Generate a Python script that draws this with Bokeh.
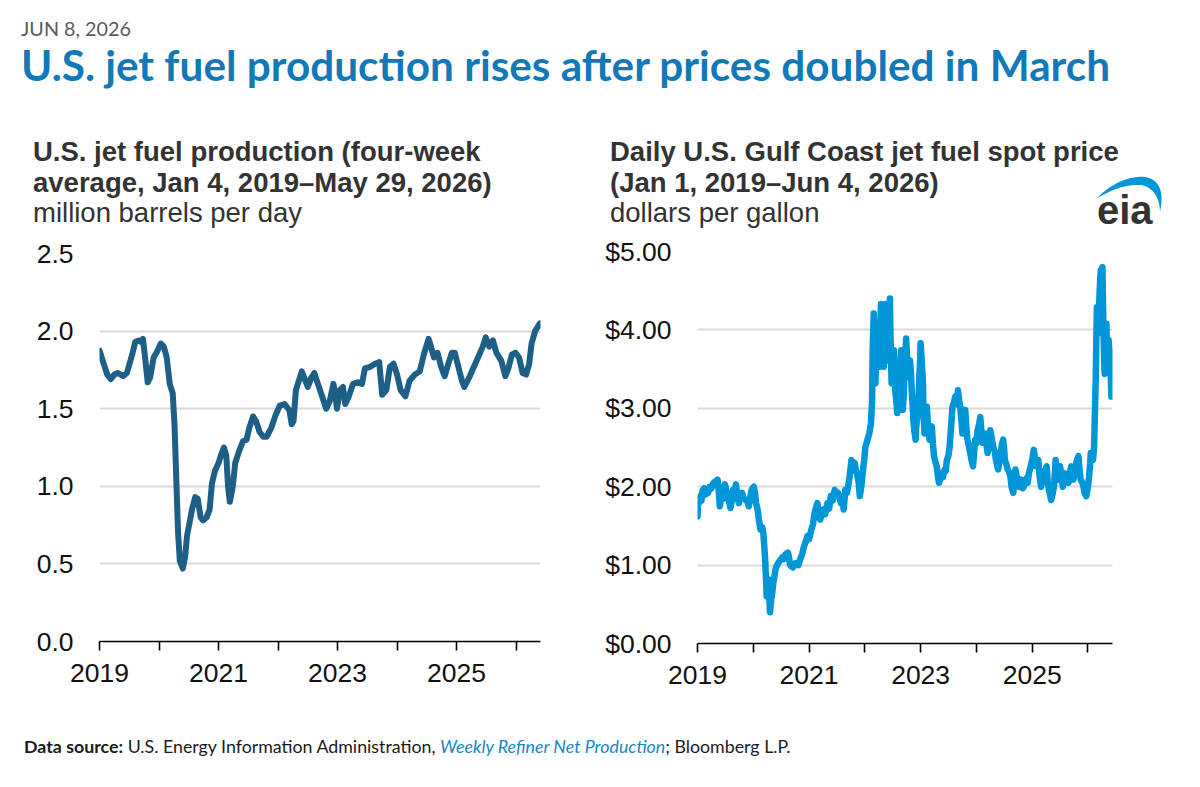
from bokeh.plotting import figure
from bokeh.layouts import column, row
from bokeh.models import Div, Range1d, FixedTicker, NumeralTickFormatter
from bokeh.embed import file_html
from bokeh.resources import INLINE

# ---------------- data ----------------
# U.S. jet fuel production, four-week average (million barrels per day): (decimal year, value)
prod_series = [
    (2019.00, 1.875), (2019.07, 1.79), (2019.13, 1.72), (2019.19, 1.69), (2019.25, 1.72),
    (2019.31, 1.73), (2019.40, 1.71), (2019.46, 1.73), (2019.55, 1.85), (2019.60, 1.93),
    (2019.66, 1.94), (2019.70, 1.93), (2019.73, 1.95), (2019.76, 1.85), (2019.81, 1.67),
    (2019.85, 1.70), (2019.91, 1.83), (2019.97, 1.87), (2020.03, 1.92), (2020.08, 1.90),
    (2020.13, 1.83), (2020.18, 1.66), (2020.23, 1.60), (2020.26, 1.40), (2020.29, 1.05),
    (2020.32, 0.70), (2020.35, 0.52), (2020.40, 0.47), (2020.44, 0.55), (2020.47, 0.68),
    (2020.52, 0.78), (2020.56, 0.86), (2020.61, 0.93), (2020.65, 0.92), (2020.70, 0.80),
    (2020.74, 0.78), (2020.80, 0.80), (2020.85, 0.85), (2020.89, 1.02), (2020.94, 1.10),
    (2021.00, 1.15), (2021.04, 1.20), (2021.09, 1.25), (2021.13, 1.20), (2021.16, 1.00),
    (2021.19, 0.90), (2021.24, 1.00), (2021.28, 1.15), (2021.34, 1.22), (2021.41, 1.29),
    (2021.47, 1.30), (2021.52, 1.38), (2021.58, 1.45), (2021.63, 1.42), (2021.69, 1.35),
    (2021.75, 1.32), (2021.81, 1.32), (2021.89, 1.38), (2021.96, 1.46), (2022.03, 1.52),
    (2022.11, 1.53), (2022.19, 1.49), (2022.23, 1.40), (2022.26, 1.42), (2022.30, 1.62),
    (2022.35, 1.68), (2022.40, 1.74), (2022.44, 1.70), (2022.50, 1.64), (2022.56, 1.70),
    (2022.61, 1.73), (2022.67, 1.66), (2022.74, 1.58), (2022.81, 1.50), (2022.87, 1.55),
    (2022.93, 1.66), (2022.96, 1.60), (2022.99, 1.50), (2023.04, 1.62), (2023.09, 1.64),
    (2023.13, 1.53), (2023.19, 1.58), (2023.26, 1.66), (2023.34, 1.67), (2023.41, 1.66),
    (2023.46, 1.76), (2023.55, 1.77), (2023.63, 1.79), (2023.70, 1.80), (2023.75, 1.59),
    (2023.82, 1.62), (2023.88, 1.77), (2023.94, 1.79), (2024.00, 1.72), (2024.06, 1.62),
    (2024.14, 1.58), (2024.21, 1.68), (2024.30, 1.72), (2024.38, 1.74), (2024.45, 1.85),
    (2024.53, 1.95), (2024.57, 1.90), (2024.62, 1.83), (2024.68, 1.86), (2024.74, 1.77),
    (2024.80, 1.71), (2024.87, 1.80), (2024.92, 1.86), (2024.97, 1.86), (2025.01, 1.80),
    (2025.09, 1.68), (2025.13, 1.64), (2025.21, 1.70), (2025.28, 1.76), (2025.36, 1.83),
    (2025.44, 1.90), (2025.49, 1.96), (2025.55, 1.90), (2025.61, 1.94), (2025.67, 1.86),
    (2025.75, 1.81), (2025.82, 1.71), (2025.87, 1.76), (2025.93, 1.85), (2025.99, 1.86),
    (2026.05, 1.83), (2026.11, 1.73), (2026.17, 1.72), (2026.22, 1.79), (2026.26, 1.92),
    (2026.32, 2.00), (2026.40, 2.05),
]

# Daily U.S. Gulf Coast jet fuel spot price (dollars per gallon): (decimal year, value)
price_series = [
    (2019.00, 1.62), (2019.01, 1.85), (2019.03, 1.80), (2019.05, 1.88), (2019.07, 1.82),
    (2019.09, 1.95), (2019.12, 1.98), (2019.14, 1.90), (2019.17, 1.96), (2019.19, 1.92),
    (2019.22, 2.00), (2019.25, 1.98), (2019.28, 2.04), (2019.32, 2.07), (2019.34, 2.02),
    (2019.36, 2.09), (2019.38, 1.95), (2019.40, 1.75), (2019.42, 1.85), (2019.45, 1.92),
    (2019.47, 1.85), (2019.49, 2.03), (2019.52, 1.95), (2019.55, 1.88), (2019.57, 1.80),
    (2019.59, 1.73), (2019.62, 1.85), (2019.64, 1.96), (2019.66, 1.90), (2019.69, 2.03),
    (2019.71, 1.90), (2019.74, 1.79), (2019.77, 1.88), (2019.80, 1.92), (2019.83, 1.85),
    (2019.87, 1.83), (2019.90, 1.80), (2019.92, 1.75), (2019.95, 1.88), (2019.97, 1.96),
    (2020.01, 2.00), (2020.03, 1.92), (2020.05, 1.79), (2020.08, 1.70), (2020.10, 1.58),
    (2020.13, 1.45), (2020.16, 1.48), (2020.18, 1.41), (2020.21, 1.11), (2020.23, 0.80),
    (2020.24, 0.60), (2020.26, 0.70), (2020.27, 0.82), (2020.29, 0.55), (2020.30, 0.40),
    (2020.32, 0.55), (2020.34, 0.65), (2020.36, 0.78), (2020.38, 0.86), (2020.40, 0.95),
    (2020.42, 0.99), (2020.45, 1.03), (2020.49, 1.07), (2020.52, 1.10), (2020.55, 1.08),
    (2020.58, 1.14), (2020.62, 1.16), (2020.64, 1.10), (2020.66, 1.00), (2020.69, 0.98),
    (2020.71, 0.97), (2020.74, 1.02), (2020.78, 1.03), (2020.81, 1.00), (2020.84, 1.07),
    (2020.88, 1.15), (2020.91, 1.24), (2020.94, 1.30), (2020.97, 1.37), (2021.00, 1.33),
    (2021.04, 1.45), (2021.07, 1.52), (2021.10, 1.67), (2021.12, 1.72), (2021.15, 1.79),
    (2021.17, 1.65), (2021.20, 1.58), (2021.23, 1.66), (2021.26, 1.71), (2021.29, 1.65),
    (2021.33, 1.79), (2021.36, 1.72), (2021.39, 1.88), (2021.42, 1.82), (2021.46, 1.96),
    (2021.49, 1.90), (2021.52, 1.92), (2021.55, 1.85), (2021.57, 1.79), (2021.60, 1.88),
    (2021.62, 1.71), (2021.65, 1.96), (2021.68, 1.92), (2021.72, 2.09), (2021.74, 2.20),
    (2021.76, 2.34), (2021.79, 2.28), (2021.82, 2.30), (2021.84, 2.20), (2021.86, 2.17),
    (2021.89, 2.05), (2021.91, 1.88), (2021.94, 2.02), (2021.96, 2.17), (2021.99, 2.35),
    (2022.01, 2.51), (2022.04, 2.58), (2022.08, 2.68), (2022.11, 2.81), (2022.13, 3.10),
    (2022.14, 3.74), (2022.16, 4.21), (2022.17, 3.80), (2022.19, 3.32), (2022.20, 3.70),
    (2022.22, 4.08), (2022.24, 3.70), (2022.26, 3.53), (2022.27, 3.90), (2022.29, 4.33),
    (2022.31, 3.80), (2022.34, 3.53), (2022.35, 4.00), (2022.37, 4.33), (2022.39, 3.90),
    (2022.41, 3.61), (2022.43, 4.10), (2022.45, 4.40), (2022.46, 3.90), (2022.48, 3.32),
    (2022.50, 3.50), (2022.52, 3.74), (2022.53, 3.40), (2022.55, 3.19), (2022.57, 3.05),
    (2022.58, 2.94), (2022.60, 3.20), (2022.61, 3.53), (2022.63, 3.45), (2022.65, 3.74),
    (2022.66, 3.30), (2022.68, 2.98), (2022.70, 3.20), (2022.71, 3.53), (2022.73, 3.70),
    (2022.74, 3.89), (2022.76, 3.60), (2022.78, 3.40), (2022.79, 3.55), (2022.81, 3.61),
    (2022.83, 3.40), (2022.84, 3.23), (2022.86, 3.00), (2022.87, 2.85), (2022.89, 2.70),
    (2022.91, 2.60), (2022.92, 2.75), (2022.94, 2.89), (2022.96, 3.10), (2022.97, 3.28),
    (2022.99, 3.60), (2023.00, 3.83), (2023.02, 3.60), (2023.04, 3.36), (2023.05, 3.00),
    (2023.07, 2.68), (2023.09, 2.85), (2023.11, 3.02), (2023.13, 2.80), (2023.16, 2.60),
    (2023.18, 2.70), (2023.20, 2.77), (2023.22, 2.55), (2023.24, 2.39), (2023.27, 2.30),
    (2023.29, 2.26), (2023.31, 2.12), (2023.33, 2.05), (2023.35, 2.10), (2023.37, 2.17),
    (2023.40, 2.12), (2023.43, 2.22), (2023.45, 2.20), (2023.47, 2.34), (2023.50, 2.40),
    (2023.52, 2.51), (2023.55, 2.80), (2023.57, 3.02), (2023.60, 3.08), (2023.62, 3.15),
    (2023.65, 3.05), (2023.67, 3.23), (2023.69, 3.10), (2023.71, 3.02), (2023.73, 2.85),
    (2023.75, 2.68), (2023.77, 2.85), (2023.80, 2.98), (2023.82, 2.75), (2023.84, 2.60),
    (2023.87, 2.50), (2023.89, 2.43), (2023.91, 2.35), (2023.94, 2.26), (2023.96, 2.45),
    (2023.98, 2.60), (2024.00, 2.55), (2024.02, 2.72), (2024.05, 2.80), (2024.07, 2.89),
    (2024.09, 2.70), (2024.11, 2.56), (2024.13, 2.62), (2024.15, 2.68), (2024.18, 2.55),
    (2024.20, 2.43), (2024.23, 2.60), (2024.25, 2.72), (2024.28, 2.60), (2024.30, 2.51),
    (2024.33, 2.45), (2024.35, 2.34), (2024.37, 2.28), (2024.39, 2.22), (2024.42, 2.35),
    (2024.44, 2.43), (2024.46, 2.55), (2024.48, 2.60), (2024.50, 2.45), (2024.51, 2.34),
    (2024.54, 2.28), (2024.56, 2.22), (2024.59, 2.18), (2024.61, 2.13), (2024.63, 2.00),
    (2024.66, 1.92), (2024.68, 2.05), (2024.70, 2.22), (2024.73, 2.10), (2024.76, 2.00),
    (2024.78, 2.05), (2024.80, 2.09), (2024.83, 1.98), (2024.85, 2.00), (2024.88, 2.05),
    (2024.90, 2.11), (2024.92, 2.05), (2024.94, 2.17), (2024.97, 2.25), (2025.00, 2.34),
    (2025.03, 2.47), (2025.05, 2.35), (2025.07, 2.26), (2025.09, 2.30), (2025.11, 2.34),
    (2025.13, 2.15), (2025.16, 2.00), (2025.18, 2.10), (2025.20, 2.17), (2025.23, 2.20),
    (2025.26, 2.26), (2025.28, 2.05), (2025.30, 1.96), (2025.32, 1.90), (2025.34, 1.83),
    (2025.37, 1.92), (2025.39, 2.00), (2025.41, 2.20), (2025.42, 2.34), (2025.44, 2.20),
    (2025.46, 2.09), (2025.48, 2.18), (2025.50, 2.26), (2025.53, 2.10), (2025.55, 2.00),
    (2025.57, 2.08), (2025.59, 2.17), (2025.62, 2.10), (2025.65, 2.05), (2025.67, 2.15),
    (2025.70, 2.26), (2025.72, 2.15), (2025.74, 2.09), (2025.76, 2.20), (2025.79, 2.30),
    (2025.81, 2.35), (2025.83, 2.39), (2025.85, 2.20), (2025.87, 2.09), (2025.90, 2.05),
    (2025.92, 2.00), (2025.94, 1.92), (2025.97, 1.88), (2026.00, 2.00), (2026.02, 2.13),
    (2026.04, 2.30), (2026.05, 2.43), (2026.07, 2.38), (2026.09, 2.34), (2026.11, 2.50),
    (2026.12, 2.81), (2026.14, 3.40), (2026.15, 3.87), (2026.16, 4.29), (2026.17, 4.00),
    (2026.18, 3.95), (2026.20, 4.30), (2026.21, 4.50), (2026.22, 4.65), (2026.23, 4.76),
    (2026.25, 4.70), (2026.26, 4.80), (2026.27, 4.30), (2026.28, 3.95), (2026.29, 3.60),
    (2026.30, 3.44), (2026.31, 3.80), (2026.33, 4.08), (2026.34, 3.80), (2026.35, 3.53),
    (2026.36, 3.70), (2026.37, 3.87), (2026.38, 3.80), (2026.39, 3.74), (2026.41, 3.40),
    (2026.42, 3.15), (2026.43, 3.53),
]

prod_years = [d for d, v in prod_series]
prod_values = [v for d, v in prod_series]
price_years = [d for d, v in price_series]
price_values = [v for d, v in price_series]

year_ticks = [2019, 2020, 2021, 2022, 2023, 2024, 2025, 2026]
year_labels = {2019: "2019", 2020: "", 2021: "2021", 2022: "",
               2023: "2023", 2024: "", 2025: "2025", 2026: ""}
prod_ticks = [0.0, 0.5, 1.0, 1.5, 2.0, 2.5]
price_ticks = [0, 1, 2, 3, 4, 5]

# ---------------- styling ----------------
TICK_FONT = "Liberation Sans"
TICK_SIZE = "26.5px"
GRID = "#d9d9d9"


def make_fig(width, height, mb_left, mb_right, mb_top, mb_bottom,
             x_end, y_end, y_ticks, y_format, xs, ys, color, lw):
    p = figure(width=width, height=height,
               x_range=Range1d(2019.0, x_end), y_range=Range1d(0, y_end),
               output_backend="svg", toolbar_location=None,
               min_border_left=mb_left, min_border_right=mb_right,
               min_border_top=mb_top, min_border_bottom=mb_bottom,
               margin=0)
    p.outline_line_color = None
    p.background_fill_color = "white"
    p.border_fill_color = "white"
    p.xgrid.visible = False
    p.ygrid.grid_line_color = GRID
    p.ygrid.grid_line_width = 2
    p.ygrid.ticker = FixedTicker(ticks=y_ticks)

    xa = p.xaxis[0]
    xa.ticker = FixedTicker(ticks=year_ticks)
    xa.major_label_overrides = year_labels
    xa.axis_line_color = "black"
    xa.axis_line_width = 1.6
    xa.major_tick_line_color = "black"
    xa.major_tick_line_width = 1.6
    xa.major_tick_in = 0
    xa.major_tick_out = 9
    xa.minor_tick_line_color = None
    xa.major_label_standoff = 13
    xa.major_label_text_font = TICK_FONT
    xa.major_label_text_font_size = TICK_SIZE
    xa.major_label_text_color = "#111111"

    ya = p.yaxis[0]
    ya.ticker = FixedTicker(ticks=y_ticks)
    ya.formatter = NumeralTickFormatter(format=y_format)
    ya.axis_line_color = None
    ya.major_tick_line_color = None
    ya.minor_tick_line_color = None
    ya.major_tick_in = 0
    ya.major_tick_out = 0
    ya.major_label_standoff = 26
    ya.major_label_text_font = TICK_FONT
    ya.major_label_text_font_size = TICK_SIZE
    ya.major_label_text_color = "#111111"

    p.line(xs, ys, line_color=color, line_width=lw,
           line_join="round", line_cap="round")
    return p


left_fig = make_fig(568, 469, 99, 28, 21, 60, 2026.41, 2.5, prod_ticks, "0.0",
                    prod_years, prod_values, "#1e5f87", 6)
right_fig = make_fig(624, 469, 129, 80, 19, 58, 2026.44, 5, price_ticks, "$0.00",
                     price_years, price_values, "#0096d7", 6.5)

# ---------------- text blocks ----------------
header_html = (
    '<div style="position:relative;width:1192px;height:120px;">'
    '<div style="position:absolute;left:21px;top:19px;font-family:Lato;font-size:19.8px;'
    'line-height:1;color:#5a5a5a;white-space:nowrap;">JUN 8, 2026</div>'
    '<div style="position:absolute;left:21px;top:44px;font-family:Lato;font-weight:bold;'
    'font-size:42.3px;line-height:1;color:#1279b9;white-space:nowrap;">'
    'U.S. jet fuel production rises after prices doubled in March</div>'
    '</div>'
)
header = Div(text=header_html, width=1192, height=120, margin=0)

title_style = ("position:absolute;font-family:'Liberation Sans';font-size:27.5px;"
               "line-height:30.5px;color:#333333;white-space:nowrap;")

left_title_html = (
    '<div style="position:relative;width:568px;height:112px;">'
    f'<div style="{title_style}left:33px;top:17px;">'
    '<b>U.S. jet fuel production (four-week<br>'
    'average, Jan 4, 2019\u2013May 29, 2026)</b><br>'
    'million barrels per day</div>'
    '</div>'
)
left_title = Div(text=left_title_html, width=568, height=112, margin=0)

logo_svg = (
    '<svg style="position:absolute;left:522px;top:52px;" width="80" height="64" '
    'viewBox="0 0 80 64" xmlns="http://www.w3.org/2000/svg">'
    '<path d="M 6 27 C 20 12, 40 3, 55 5 C 68 7, 75 18, 70 40 '
    'C 70 25, 62 14, 50 13 C 35 12, 20 18, 6 27 Z" fill="#0096d7"/>'
    '<text x="7" y="51.5" font-family="Liberation Sans" font-weight="bold" '
    'font-size="40" fill="#333333">eia</text>'
    '</svg>'
)

right_title_html = (
    '<div style="position:relative;width:624px;height:112px;">'
    f'<div style="{title_style}left:42px;top:17px;">'
    '<b>Daily U.S. Gulf Coast jet fuel spot price<br>'
    '(Jan 1, 2019\u2013Jun 4, 2026)</b><br>'
    'dollars per gallon</div>'
    + logo_svg +
    '</div>'
)
right_title = Div(text=right_title_html, width=624, height=112, margin=0)

footer_html = (
    '<div style="position:relative;width:1192px;height:60px;">'
    '<div style="position:absolute;left:24px;top:36.5px;font-family:Lato;font-size:17.8px;'
    'line-height:1;color:#1a1a1a;white-space:nowrap;">'
    '<b>Data source:</b> U.S. Energy Information Administration, '
    '<i style="color:#1a87c3;">Weekly Refiner Net Production</i>; Bloomberg L.P.</div>'
    '</div>'
)
footer = Div(text=footer_html, width=1192, height=60, margin=0)

layout = column(
    header,
    row(column(left_title, left_fig, spacing=0),
        column(right_title, right_fig, spacing=0), spacing=0),
    footer,
    spacing=0,
)

with open("out.html", "w", encoding="utf-8") as f:
    f.write(file_html(layout, INLINE))
